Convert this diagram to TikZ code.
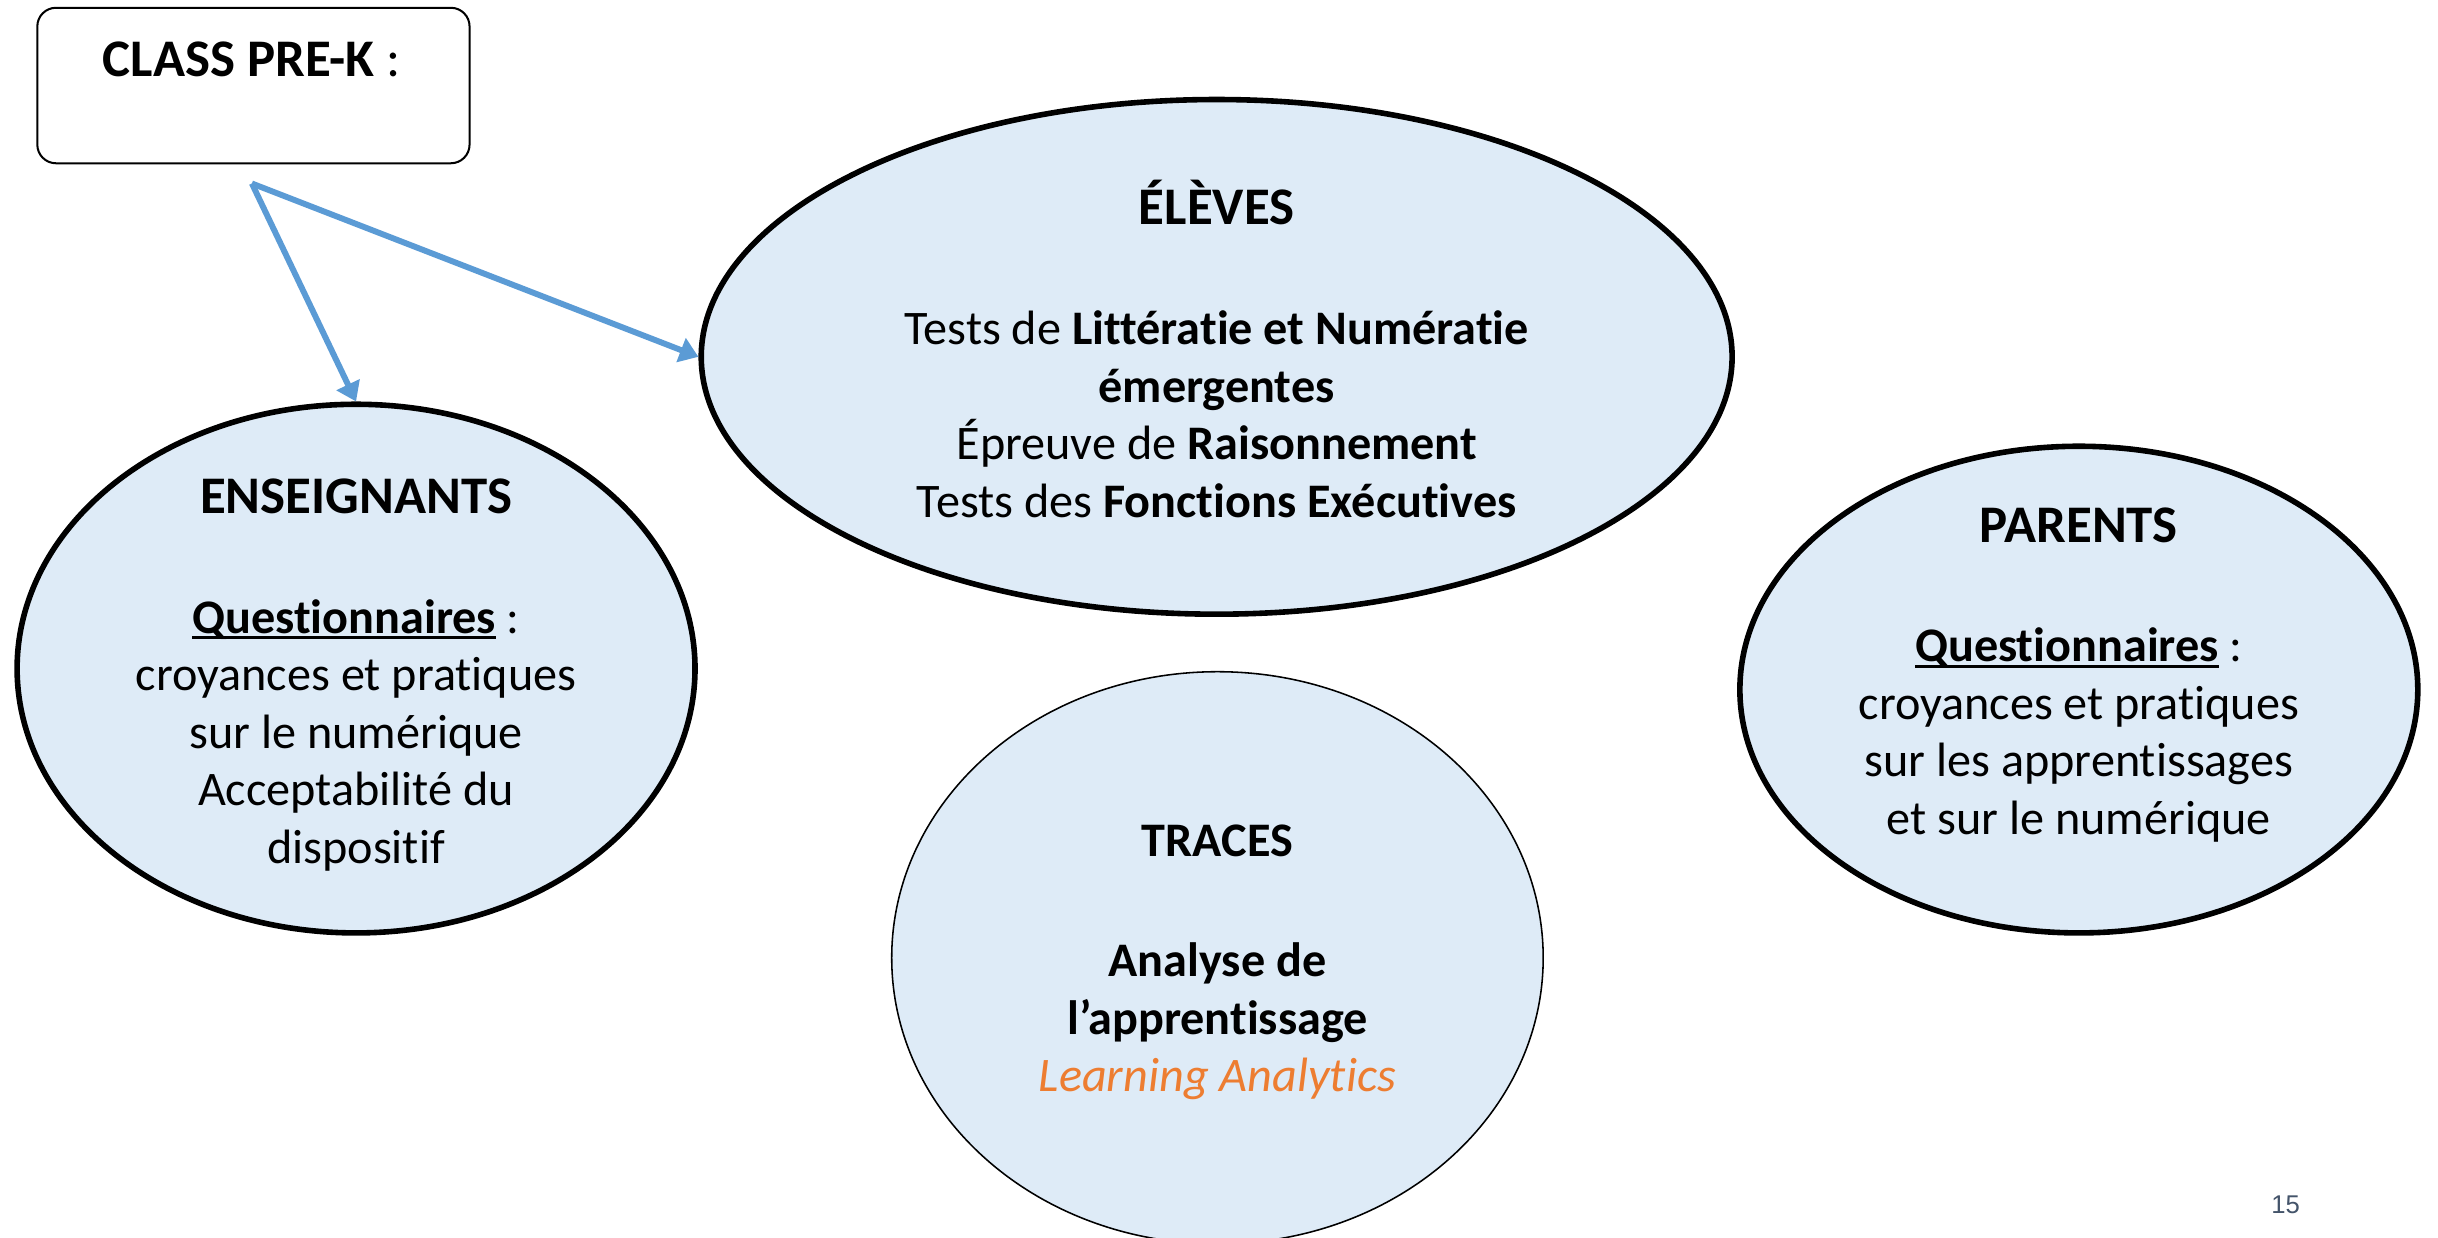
\documentclass[tikz,border=0pt]{standalone}
\usepackage{fontspec}
\setmainfont{Carlito}[Ligatures=NoCommon]
\newfontfamily\pagenumfont{Liberation Sans}
\usetikzlibrary{shapes.geometric,arrows.meta}
\definecolor{fillblue}{HTML}{DEEBF7}
\definecolor{arrowblue}{HTML}{5B9BD5}
\definecolor{laorange}{HTML}{ED7D31}
\definecolor{pagegrey}{HTML}{44546A}
\newsavebox\ulsave
\newcommand\myul[1]{\sbox\ulsave{#1}\rlap{\rule[-4pt]{\wd\ulsave}{1.9pt}}\usebox\ulsave}
\newcommand\bighead[1]{{\fontsize{34}{37}\selectfont\textbf{#1}}}
\tikzset{
  bubble/.style={ellipse, draw=black, line width=3.6pt, fill=fillblue, inner sep=0pt},
  thinbubble/.style={ellipse, draw=black, line width=1pt, fill=fillblue, inner sep=0pt},
  txt/.style={align=center, inner sep=0pt, font=\fontsize{31}{37}\selectfont},
  classbox/.style={draw=black, line width=1.3pt, rounded corners=12pt, inner sep=0pt},
  link/.style={draw=arrowblue, line width=3.8pt, -{Triangle[length=12pt,width=16pt]}}
}
\begin{document}
\begin{tikzpicture}[x=1pt,y=-1pt]
\useasboundingbox (0,0) rectangle (1568,796);
\fill[white] (0,0) rectangle (1568,796);
% box
\node[classbox, minimum width=278pt, minimum height=100pt] (box) at (163,55) {};
\node[txt, font=\fontsize{34}{40}\selectfont] (boxtxt) at (162,38) {\textbf{CLASS PRE-K} :};
% ellipses
\node[bubble, minimum width=663pt, minimum height=331pt] (elv) at (782.5,229.5) {};
\node[bubble, minimum width=436pt, minimum height=340pt] (ens) at (229,430) {};
\node[bubble, minimum width=436pt, minimum height=313pt] (par) at (1337,443.5) {};
\node[thinbubble, minimum width=419pt, minimum height=368pt] (trc) at (783,616) {};
% texts
\node[txt] (elvtxt) at (782.5,224.5) {\bighead{ÉLÈVES}\\[40pt]
  Tests de \textbf{Littératie et Numératie}\\
  \textbf{émergentes}\\
  Épreuve de \textbf{Raisonnement}\\
  Tests des \textbf{Fonctions Exécutives}};
\node[txt] (enstxt) at (229,434) {\bighead{ENSEIGNANTS}\\[40pt]
  \myul{\textbf{Questionnaires}} :\\
  croyances et pratiques\\
  sur le numérique\\
  Acceptabilité du\\
  dispositif};
\node[txt] (partxt) at (1337,434) {\bighead{PARENTS}\\[40pt]
  \myul{\textbf{Questionnaires}} :\\
  croyances et pratiques\\
  sur les apprentissages\\
  et sur le numérique};
\node[txt] (trctxt) at (783,619) {\textbf{TRACES}\\[40pt]
  \textbf{Analyse de}\\
  \textbf{l’apprentissage}\\
  {\color{laorange}\itshape Learning Analytics}};
% arrows
\coordinate (src) at (162,118);
\draw[link] (src) -- (ens.north);
\draw[link] (src) -- (elv.west);
% page number
\node[inner sep=0pt, text=pagegrey, font=\pagenumfont\fontsize{16.5}{18}\selectfont] (pnum) at (1470,775) {15};
\end{tikzpicture}
\end{document}
